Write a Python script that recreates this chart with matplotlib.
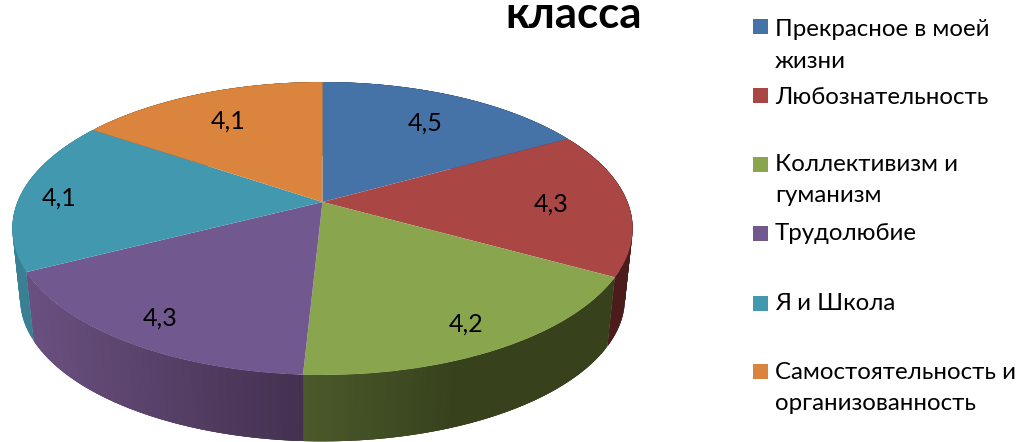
import numpy as np
import matplotlib
matplotlib.use('Agg')
import matplotlib.pyplot as plt
from matplotlib.colors import to_rgb
from matplotlib.patches import Rectangle
from matplotlib.transforms import Transform

categories = ['Прекрасное в моей\nжизни', 'Любознательность', 'Коллективизм и\nгуманизм',
              'Трудолюбие', 'Я и Школа', 'Самостоятельность и\nорганизованность']
values = [4.5, 4.3, 4.2, 4.3, 4.1, 4.1]
# slice sizes as drawn in the picture, in degrees
slice_deg = [61, 58, 64, 60, 61, 56]

colors = ['#4572A7', '#AA4643', '#89A54E', '#71588F', '#4198AF', '#DB843D']
wall_left = ['#2f4a70', '#3a1818', '#4c5a2b', '#6a5080', '#3a8095', '#8f5524']
wall_right = ['#2f4a70', '#4c1c1c', '#37421d', '#443150', '#3a8095', '#8f5524']
wall_fade = [1, 1, 2, 1, 1, 1]

label_pos = [(425, 123), (551, 204), (466, 324), (160, 318), (59, 198), (228, 121)]
legend_y = [26, 95, 164, 233, 303, 371]
legend_text_y = [36, 104, 171, 240, 310, 379]

FONT = ['Lato', 'Noto Sans']

# pie geometry in image pixels
CX, APEX_Y = 322.5, 202
K, A, B = 0.181, 305, 141.7
WALL_SCALE, TOP_CY, BOT_CY = 0.975, 228, 298


class Perspective(Transform):
    input_dims = 2
    output_dims = 2
    is_separable = False
    has_inverse = False

    def transform_non_affine(self, xy):
        xy = np.asarray(xy, dtype=float)
        d = 1 + K * xy[:, 1]
        return np.column_stack([CX + A * xy[:, 0] / d, APEX_Y - B * xy[:, 1] / d])


fig = plt.figure(figsize=(10.18, 4.42), dpi=100)
ax = fig.add_axes([0, 0, 1, 1])

wedges, _ = ax.pie(slice_deg, colors=colors, startangle=90, counterclock=False,
                   wedgeprops={'linewidth': 0, 'zorder': 3})
ax.set_aspect('auto')
ax.set_xlim(0, 1018)
ax.set_ylim(442, 0)
ax.axis('off')

persp = Perspective()
for w in wedges:
    w.set_transform(persp + ax.transData)

# side wall, short overlapping strips so it can shade from left to right
start = 90.0
for i, deg in enumerate(slice_deg):
    th = np.radians(np.linspace(start, start - deg, 90))
    rim = persp.transform_non_affine(np.column_stack([np.cos(th), np.sin(th)]))
    low = np.column_stack([CX + WALL_SCALE * (rim[:, 0] - CX),
                           BOT_CY + WALL_SCALE * (rim[:, 1] - TOP_CY)])
    c0, c1 = np.array(to_rgb(wall_left[i])), np.array(to_rgb(wall_right[i]))
    x0, x1 = min(rim[0, 0], rim[-1, 0]), max(rim[0, 0], rim[-1, 0])
    for j in range(len(th) - 1):
        t = np.clip(wall_fade[i] * (rim[j, 0] - x0) / max(x1 - x0, 1), 0, 1)
        col = c0 + (c1 - c0) * t
        k = min(j + 3, len(th) - 1)
        ax.fill(np.r_[rim[j:k + 1, 0], low[j:k + 1, 0][::-1]],
                np.r_[rim[j:k + 1, 1], low[j:k + 1, 1][::-1]],
                color=col, lw=0, zorder=2)
    start -= deg

for v, (x, y) in zip(values, label_pos):
    ax.text(x, y, str(v).replace('.', ','), ha='center', va='center',
            fontsize=18, family=FONT, color='black', zorder=5)

ax.text(574, 28, 'класса', ha='center', va='baseline', fontsize=31.5, fontweight='bold',
        family=FONT, color='black')

for cat, col, y, ty in zip(categories, colors, legend_y, legend_text_y):
    ax.add_patch(Rectangle((753, y - 7.5), 15, 15, facecolor=col, edgecolor='none'))
    for n, line in enumerate(cat.split('\n')):
        ax.text(775, ty + n * 31.5, line, ha='left', va='baseline', fontsize=17.3,
                family=FONT, color='black')

fig.savefig('out.png', dpi=100)
